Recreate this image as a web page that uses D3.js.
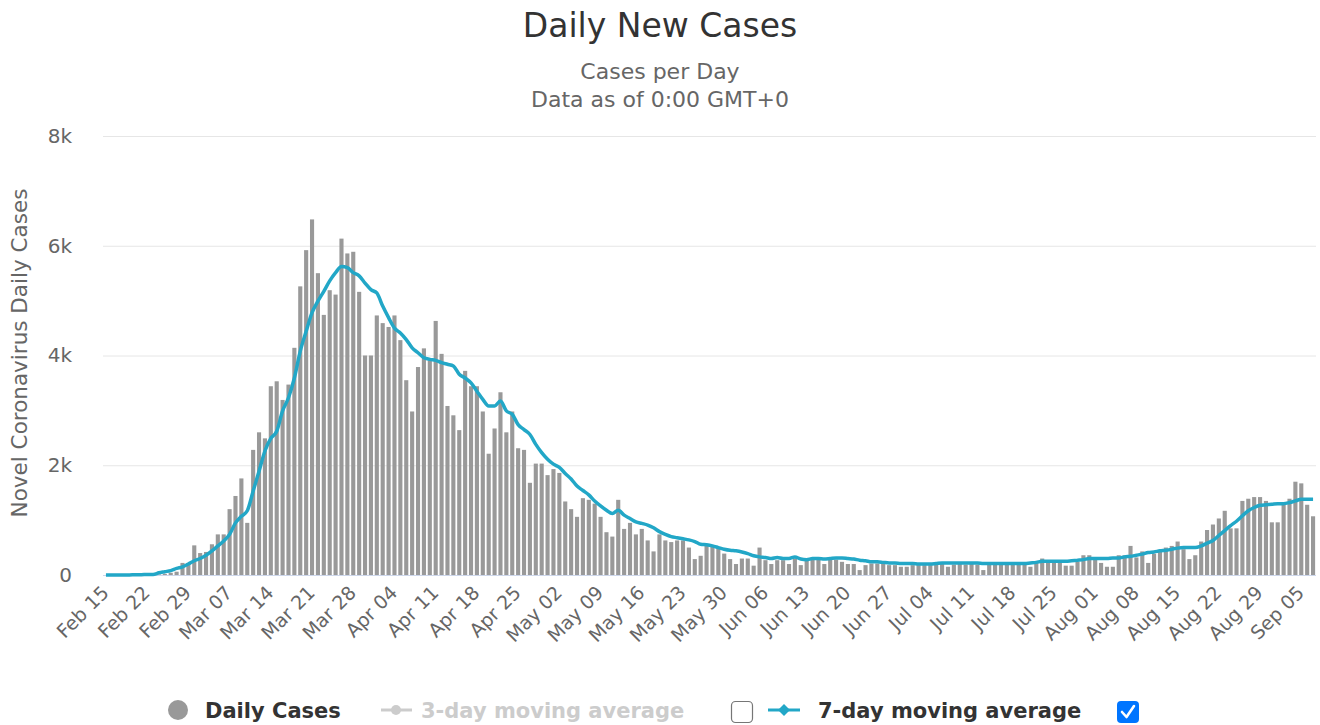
<!DOCTYPE html>
<html>
<head>
<meta charset="utf-8">
<script src="https://cdn.jsdelivr.net/npm/d3@7"></script>
<style>
  body { margin: 0; background: #fff; }
  svg { display: block; font-family: "DejaVu Sans", "Lucida Grande", sans-serif; }
</style>
</head>
<body>
<div id="chart"></div>
<script>
// days Feb 15 2020 .. Sep 07 2020
const dates = d3.timeDay.range(new Date(2020, 1, 15), new Date(2020, 8, 8));

const tickLabels = ["Feb 15", "Feb 22", "Feb 29", "Mar 07", "Mar 14", "Mar 21", "Mar 28",
  "Apr 04", "Apr 11", "Apr 18", "Apr 25", "May 02", "May 09", "May 16", "May 23", "May 30",
  "Jun 06", "Jun 13", "Jun 20", "Jun 27", "Jul 04", "Jul 11", "Jul 18", "Jul 25",
  "Aug 01", "Aug 08", "Aug 15", "Aug 22", "Aug 29", "Sep 05"];

const yTicks = [0, 2000, 4000, 6000, 8000];

// daily cases
const dailyCases = [
  0, 0, 0, 0, 0, 0, 0, 0, 5, 10,
  20, 40, 60, 220, 220, 540, 400, 420, 560, 740,
  740, 1200, 1440, 1760, 950, 2280, 2600, 2490, 3440, 3530,
  3190, 3470, 4140, 5260, 5920, 6480, 5500, 4740, 5190, 5110,
  6130, 5860, 5890, 5160, 4000, 4000, 4730, 4590, 4520, 4730,
  4280, 3550, 2980, 3790, 4130, 3900, 4630, 4030, 3080, 2910,
  2640, 3720, 3440, 3440, 2980, 2210, 2670, 3330, 2600, 2980,
  2310, 2280, 1680, 2030, 2030, 1820, 1930, 1860, 1340, 1200,
  1060, 1400, 1370, 1300, 1060, 780, 700, 1370, 840, 950,
  740, 840, 630, 430, 740, 630, 600, 630, 630, 500,
  290, 350, 530, 530, 500, 390, 290, 200, 300, 300,
  170, 500, 270, 200, 270, 270, 200, 300, 180, 310,
  280, 280, 200, 300, 280, 240, 200, 200, 90, 180,
  210, 210, 210, 180, 180, 150, 150, 180, 180, 180,
  180, 190, 220, 150, 190, 220, 190, 220, 190, 90,
  190, 190, 190, 190, 190, 190, 190, 150, 220, 300,
  240, 240, 240, 170, 170, 240, 360, 360, 290, 220,
  150, 150, 360, 360, 530, 320, 430, 220, 390, 430,
  500, 530, 610, 470, 290, 360, 610, 820, 920, 1030,
  1170, 850, 850, 1350, 1390, 1420, 1420, 1350, 960, 960,
  1280, 1390, 1700, 1670, 1280, 1070
];

// 7-day moving average
const avg7 = [
  0, 0, 0, 0, 0, 5, 5, 10, 10, 40,
  60, 80, 120, 150, 200, 260, 300, 360, 440, 530,
  620, 740, 950, 1070, 1170, 1530, 1890, 2260, 2490, 2620,
  2990, 3230, 3590, 4080, 4440, 4780, 4990, 5170, 5360, 5510,
  5620, 5600, 5510, 5450, 5320, 5200, 5140, 4900, 4690, 4500,
  4410, 4290, 4140, 4050, 3960, 3930, 3910, 3870, 3840, 3810,
  3660, 3590, 3500, 3350, 3200, 3080, 3080, 3170, 2990, 2930,
  2740, 2650, 2560, 2380, 2230, 2110, 2020, 1960, 1850, 1750,
  1620, 1540, 1460, 1350, 1260, 1180, 1120, 1180, 1090, 1030,
  970, 940, 910, 860, 790, 740, 700, 680, 660, 640,
  610, 560, 550, 530, 500, 470, 450, 440, 420, 390,
  350, 330, 320, 300, 320, 300, 300, 330, 290, 280,
  300, 300, 290, 300, 310, 310, 300, 290, 270, 260,
  240, 240, 230, 220, 220, 210, 210, 210, 200, 200,
  200, 210, 220, 220, 220, 220, 220, 220, 220, 210,
  210, 210, 210, 210, 210, 210, 210, 220, 230, 250,
  250, 250, 250, 250, 260, 270, 280, 300, 300, 300,
  300, 310, 310, 330, 340, 360, 380, 410, 420, 440,
  450, 470, 490, 500, 500, 500, 530, 580, 630, 720,
  810, 900, 980, 1080, 1170, 1230, 1270, 1280, 1290, 1300,
  1300, 1320, 1350, 1380, 1380, 1380
];

const W = 1320, H = 725;
const plotLeft = 103, plotRight = 1316, plotTop = 136, plotBottom = 575;

const svg = d3.select("#chart").append("svg")
  .attr("width", W).attr("height", H);

const x = d3.scaleBand()
  .domain(dates)
  .range([plotLeft, plotRight])
  .paddingInner(0.3)
  .paddingOuter(0.15);

const y = d3.scaleLinear().domain([0, 8000]).range([plotBottom, plotTop]);

// titles
svg.append("text").attr("x", 660).attr("y", 37).attr("text-anchor", "middle")
  .attr("font-size", 33).attr("fill", "#333").text("Daily New Cases");
svg.append("text").attr("x", 660).attr("y", 79).attr("text-anchor", "middle")
  .attr("font-size", 22).attr("fill", "#666").text("Cases per Day");
svg.append("text").attr("x", 660).attr("y", 107).attr("text-anchor", "middle")
  .attr("font-size", 22).attr("fill", "#666").text("Data as of 0:00 GMT+0");

// grid + y labels
const yAxis = d3.axisLeft(y).tickValues(yTicks)
  .tickSize(-(plotRight - plotLeft))
  .tickFormat(d => d === 0 ? "0" : d3.format("~s")(d));
const gy = svg.append("g").attr("transform", `translate(${plotLeft},0)`).call(yAxis);
gy.select(".domain").remove();
gy.selectAll(".tick line").attr("stroke", "#e6e6e6");
gy.selectAll(".tick text").attr("x", -31).attr("font-size", 20).attr("fill", "#666")
  .attr("font-family", "DejaVu Sans");

svg.append("text")
  .attr("transform", "translate(27,353) rotate(-90)")
  .attr("text-anchor", "middle")
  .attr("font-size", 21.5).attr("fill", "#666")
  .text("Novel Coronavirus Daily Cases");

// bars
svg.append("g").selectAll("rect")
  .data(dates)
  .join("rect")
  .attr("x", d => x(d))
  .attr("width", x.bandwidth())
  .attr("y", (d, i) => y(dailyCases[i]))
  .attr("height", (d, i) => y(0) - y(dailyCases[i]))
  .attr("fill", "#999");

// x axis
svg.append("line").attr("x1", plotLeft).attr("x2", plotRight)
  .attr("y1", plotBottom + 0.5).attr("y2", plotBottom + 0.5)
  .attr("stroke", "#ccd6eb");

const tickDates = dates.filter((d, i) => i % 7 === 0);
svg.append("g").selectAll("text")
  .data(tickDates)
  .join("text")
  .attr("transform", d => `translate(${x(d) + x.bandwidth() / 2 + 4},${plotBottom + 19}) rotate(-45)`)
  .attr("text-anchor", "end")
  .attr("font-size", 19)
  .attr("fill", "#666")
  .text((d, i) => tickLabels[i]);

// 7-day line
const line = d3.line()
  .x((d, i) => x(dates[i]) + x.bandwidth() / 2)
  .y(d => y(d))
  .curve(d3.curveMonotoneX);

svg.append("path")
  .datum(avg7)
  .attr("d", line)
  .attr("fill", "none")
  .attr("stroke", "#22a7c7")
  .attr("stroke-width", 3.5)
  .attr("stroke-linejoin", "round");

// legend
const lg = svg.append("g").attr("font-size", 21).attr("font-weight", "bold");
lg.append("circle").attr("cx", 178).attr("cy", 710).attr("r", 10).attr("fill", "#999");
lg.append("text").attr("x", 205).attr("y", 718).attr("fill", "#333").text("Daily Cases");

lg.append("line").attr("x1", 381).attr("x2", 412).attr("y1", 710).attr("y2", 710)
  .attr("stroke", "#ccc").attr("stroke-width", 3);
lg.append("circle").attr("cx", 396).attr("cy", 710).attr("r", 5).attr("fill", "#ccc");
lg.append("text").attr("x", 421).attr("y", 718).attr("fill", "#ccc").text("3-day moving average");

lg.append("rect").attr("x", 731.5).attr("y", 701.5).attr("width", 21).attr("height", 21)
  .attr("rx", 4).attr("fill", "#fff").attr("stroke", "#767676").attr("stroke-width", 1.2);

lg.append("line").attr("x1", 768).attr("x2", 800).attr("y1", 710).attr("y2", 710)
  .attr("stroke", "#22a7c7").attr("stroke-width", 3);
lg.append("path").attr("d", "M784,704 L790,710 L784,716 L778,710 Z").attr("fill", "#22a7c7");
lg.append("text").attr("x", 818).attr("y", 718).attr("fill", "#333").text("7-day moving average");

lg.append("rect").attr("x", 1117).attr("y", 701).attr("width", 22).attr("height", 22)
  .attr("rx", 4).attr("fill", "#0075ff");
lg.append("path").attr("d", "M1122,712 L1126.5,717 L1134,706")
  .attr("fill", "none").attr("stroke", "#fff").attr("stroke-width", 2.6)
  .attr("stroke-linecap", "round").attr("stroke-linejoin", "round");
</script>
</body>
</html>
